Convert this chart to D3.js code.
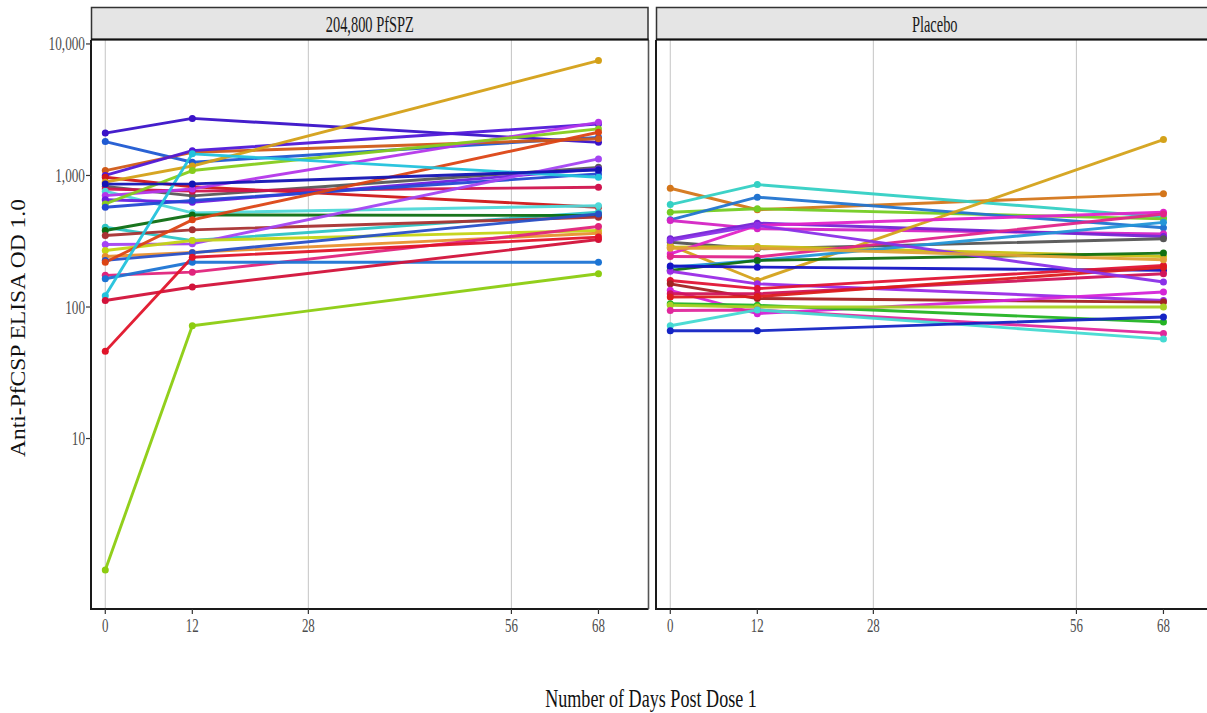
<!DOCTYPE html>
<html>
<head>
<meta charset="utf-8">
<script src="https://cdn.jsdelivr.net/npm/d3@7"></script>
<style>
  html, body { margin: 0; padding: 0; background: #ffffff; }
  svg { display: block; }
  text { font-family: "Liberation Serif", "DejaVu Serif", serif; }
</style>
</head>
<body>
<svg id="chart" width="1207" height="713"></svg>
<script>
// ---------------- DATA ----------------
const days = [0, 12, 68];
const xBreaks = [0, 12, 28, 56, 68];
const xBreakLabels = ["0", "12", "28", "56", "68"];
const gridBreaks = [0, 28, 56];
const yTicks = [10, 100, 1000, 10000];
const yTickLabels = ["10", "100", "1,000", "10,000"];
const panelNames = ["204,800 PfSPZ", "Placebo"];

// 204,800 PfSPZ group: values at day 0, 12, 68
const vaccineDay0  = [2100, 1810, 1090, 1000, 970, 890, 825, 790, 760, 703, 653, 608, 574, 404, 382, 350, 299, 269, 242, 226, 219, 174, 164, 122, 112, 46, 1, 860];
const vaccineDay12 = [2715, 1260, 1500, 1545, 820, 1180, 700, 760, 520, 790, 626, 1090, 645, 320, 501, 386, 302, 320, 260, 258, 460, 184, 219, 1460, 142, 239, 72, 863];
const vaccineDay68 = [1786, 1950, 1900, 2465, 574, 7470, 1153, 813, 589, 2535, 1122, 2260, 1028, 526, 496, 482, 1336, 382, 364, 510, 2130, 409, 219, 970, 326, 340, 179, 1100];
const vaccineColors = ["#3a12c8", "#1f5ad2", "#d05a18", "#5018d8", "#d01818", "#d4a017", "#585858", "#d0144e",
  "#4fd8d8", "#b436ea", "#6a1ee0", "#86cc1c", "#2448d4", "#2ec4c4", "#0e6e12", "#a83232", "#a444f2", "#c4d414",
  "#e89030", "#2850c8", "#dc4414", "#e0247c", "#1c74d4", "#22c2dc", "#d2123a", "#e0142a", "#8ccc10", "#1414b4"];

// Placebo group
const placeboDay0  = [800, 601, 525, 460, 455, 330, 311, 294, 285, 254, 242, 201, 190, 187, 205, 159, 150, 134, 126, 119, 106, 103, 94, 72, 66, 320, 280];
const placeboDay12 = [549, 853, 558, 684, 394, 434, 277, 159, 289, 417, 240, 226, 226, 150, 201, 138, 116, 89, 126, 120, 103, 100, 95, 95, 66, 417, 280];
const placeboDay68 = [725, 482, 468, 400, 360, 344, 330, 1876, 242, 525, 510, 440, 257, 112, 190, 207, 109, 130, 179, 200, 77, 100, 63, 57, 84, 155, 229];
const placeboColors = ["#d4761a", "#34d0c4", "#74cc22", "#2274d0", "#d424c4", "#7424d4", "#555555", "#d4a21a",
  "#c8c014", "#e024c8", "#e0248a", "#2496d8", "#127012", "#9a2ae6", "#1414c4", "#e01434", "#a42222", "#d424d8",
  "#d0145a", "#dc1c1c", "#24b424", "#a8d024", "#e0289c", "#44dad2", "#1424c4", "#8a30e8", "#e0a236"];

// ---------------- LAYOUT ----------------
const svg = d3.select("#chart");
const panelTop = 40, panelBottom = 609;
const panelWidth = 557.5;
const panelLefts = [91, 656];
const stripTop = 7.5, stripBottom = 39.5;
const xLim = [-1.97, 74.9];
const yLim = [Math.pow(10, -0.296), Math.pow(10, 4.03)];
const y = d3.scaleLog().domain(yLim).range([panelBottom, panelTop]);

function stretchedText(g, x, yPos, str, size, sx, anchor, fill) {
  const grp = g.append("g").attr("transform", `translate(${x},${yPos}) scale(${sx},1)`);
  return grp.append("text")
    .attr("x", 0).attr("y", 0)
    .attr("text-anchor", anchor)
    .attr("font-size", size)
    .attr("fill", fill)
    .text(str);
}

const groups = [
  { d0: vaccineDay0, d12: vaccineDay12, d68: vaccineDay68, colors: vaccineColors },
  { d0: placeboDay0, d12: placeboDay12, d68: placeboDay68, colors: placeboColors }
];

groups.forEach((grp, pi) => {
  const left = panelLefts[pi];
  const right = left + panelWidth;
  const x = d3.scaleLinear().domain(xLim).range([left, right]);
  const g = svg.append("g");

  const clipId = "clip" + pi;
  svg.append("clipPath").attr("id", clipId)
    .append("rect").attr("x", left).attr("y", panelTop).attr("width", panelWidth).attr("height", panelBottom - panelTop);

  // gridlines
  g.selectAll(".grid").data(gridBreaks).enter().append("line")
    .attr("x1", d => x(d)).attr("x2", d => x(d))
    .attr("y1", panelTop).attr("y2", panelBottom)
    .attr("stroke", "#c9c9c9").attr("stroke-width", 1.1);

  // series
  const series = grp.d0.map((v, i) => ({
    color: grp.colors[i],
    pts: [grp.d0[i], grp.d12[i], grp.d68[i]].map((val, k) => ({ day: days[k], val }))
  }));
  const line = d3.line().x(d => x(d.day)).y(d => y(d.val));
  const sg = g.append("g").attr("clip-path", `url(#${clipId})`);
  series.forEach(s => {
    sg.append("path").attr("d", line(s.pts))
      .attr("fill", "none").attr("stroke", s.color)
      .attr("stroke-width", 2.9).attr("stroke-linejoin", "round").attr("opacity", 0.95);
  });
  series.forEach(s => {
    sg.selectAll(null).data(s.pts).enter().append("circle")
      .attr("cx", d => x(d.day)).attr("cy", d => y(d.val))
      .attr("r", 3.5).attr("fill", s.color);
  });

  // axis lines
  g.append("line").attr("x1", left).attr("x2", left).attr("y1", panelTop).attr("y2", panelBottom + 1)
    .attr("stroke", "#1a1a1a").attr("stroke-width", 2);
  g.append("line").attr("x1", left - 1).attr("x2", right).attr("y1", panelBottom).attr("y2", panelBottom)
    .attr("stroke", "#1a1a1a").attr("stroke-width", 2);
  if (pi === 0) {
    g.append("line").attr("x1", right).attr("x2", right).attr("y1", panelTop).attr("y2", panelBottom)
      .attr("stroke", "#555").attr("stroke-width", 1.6);
  }

  // x ticks
  xBreaks.forEach((b, k) => {
    g.append("line").attr("x1", x(b)).attr("x2", x(b)).attr("y1", panelBottom).attr("y2", panelBottom + 5)
      .attr("stroke", "#333").attr("stroke-width", 1.2);
    stretchedText(g, x(b), 632, xBreakLabels[k], 18.5, 0.7, "middle", "#4d4d4d");
  });

  // y ticks only on first panel
  if (pi === 0) {
    yTicks.forEach((t, k) => {
      g.append("line").attr("x1", left - 5).attr("x2", left).attr("y1", y(t)).attr("y2", y(t))
        .attr("stroke", "#333").attr("stroke-width", 1.2);
      stretchedText(g, left - 6, y(t) + 6.5, yTickLabels[k], 19.5, 0.68, "end", "#4d4d4d");
    });
  }

  // strip
  g.append("rect").attr("x", left + 0.5).attr("y", stripTop).attr("width", panelWidth - 1).attr("height", stripBottom - stripTop)
    .attr("fill", "#e5e5e5").attr("stroke", "#333").attr("stroke-width", 1.5);
  g.append("line").attr("x1", left).attr("x2", right).attr("y1", stripBottom).attr("y2", stripBottom)
    .attr("stroke", "#111").attr("stroke-width", 2);
  stretchedText(g, left + panelWidth / 2, 31.5, panelNames[pi], 22.5, 0.64, "middle", "#1a1a1a");
});

// axis titles
stretchedText(svg, 651, 707, "Number of Days Post Dose 1", 25.5, 0.71, "middle", "#111");
svg.append("text")
  .attr("transform", "translate(25,328) rotate(-90)")
  .attr("text-anchor", "middle")
  .attr("font-size", 21)
  .attr("fill", "#111")
  .attr("textLength", 258)
  .attr("lengthAdjust", "spacingAndGlyphs")
  .text("Anti-PfCSP ELISA OD 1.0");
</script>
</body>
</html>
